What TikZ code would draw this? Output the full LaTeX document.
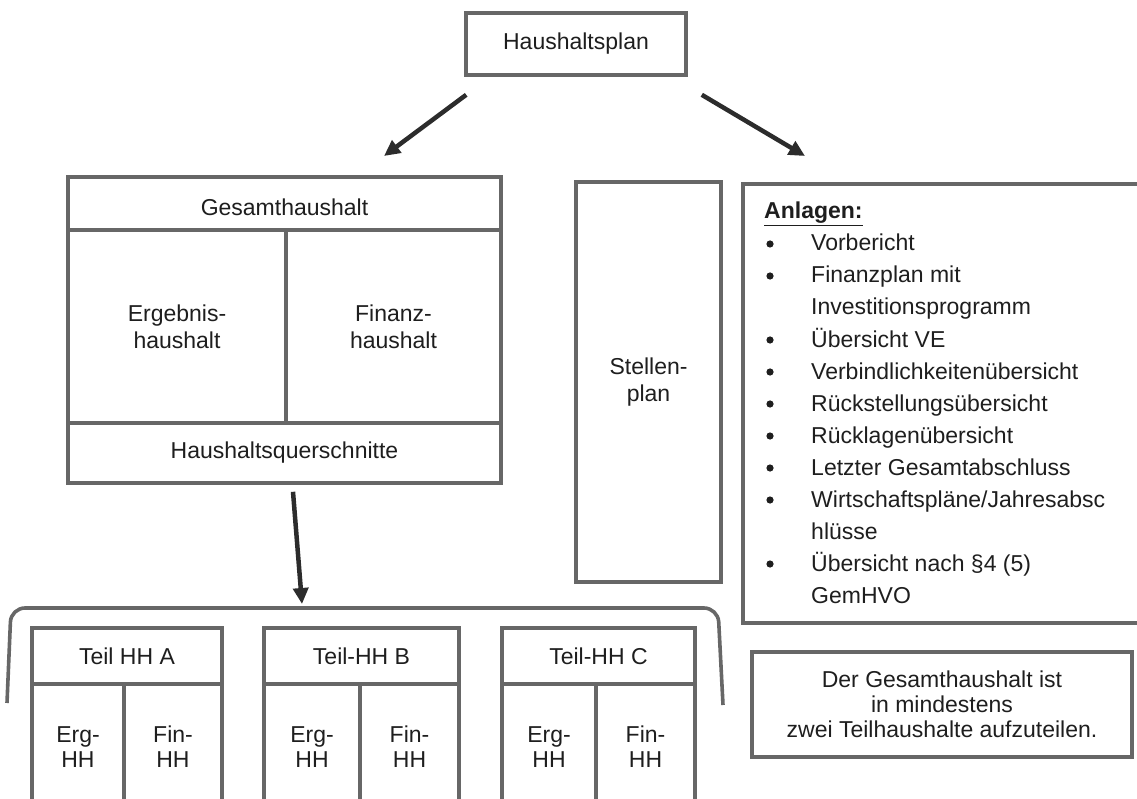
\documentclass[tikz,border=0pt]{standalone}
\usepackage{fontspec}
\setmainfont{Liberation Sans}
\usetikzlibrary{arrows.meta}
\definecolor{framegray}{HTML}{676767}
\definecolor{inkgray}{HTML}{1E1E1E}
\definecolor{arrowgray}{HTML}{2C2C2C}
\newcommand{\hhfont}{\fontsize{23}{27}\selectfont}

\begin{document}
\begin{tikzpicture}[x=1pt, y=-1pt,
  cell/.style={
    draw=framegray, line width=3.6pt, inner sep=0pt,
    align=center, text=inkgray, font=\hhfont
  },
  item/.style={anchor=base west, inner sep=0pt, text=inkgray, font=\hhfont},
  bigarrow/.style={draw=arrowgray, line width=4.5pt,
    -{Triangle[length=16pt,width=15pt]}}
]
\useasboundingbox (0,0) rectangle (1137,799);
\clip (0,0) rectangle (1137,799);

\node[cell, minimum width=220pt, minimum height=62pt] (plan) at (576,44) {Haushaltsplan};

% Gesamthaushalt
\node[cell, minimum width=433pt, minimum height=53pt, text height=25pt] (gesamt) at (284.5,203.5) {Gesamthaushalt};
\node[cell, minimum width=218pt, minimum height=193pt] (erg) at (177,326.5) {Ergebnis-\\haushalt};
\node[cell, minimum width=215pt, minimum height=193pt] (fin) at (393.5,326.5) {Finanz-\\haushalt};
\node[cell, minimum width=433pt, minimum height=60pt] (quer) at (284.5,453) {Haushaltsquerschnitte};

\node[cell, minimum width=145pt, minimum height=400pt] (stellen) at (648.5,382) {Stellen-\\plan};

% Anlagen
\node[cell, minimum width=417pt, minimum height=439pt] (anlagen) at (951.5,403.5) {};
\node[item, font=\hhfont\bfseries] (anltitel) at (764,219) {\underline{Anlagen:}};
\foreach \k/\t/\b in {1/Vorbericht/1, 2/Finanzplan mit/1, 3/Investitionsprogramm/0,
    4/Übersicht VE/1, 5/Verbindlichkeitenübersicht/1, 6/Rückstellungsübersicht/1,
    7/Rücklagenübersicht/1, 8/Letzter Gesamtabschluss/1,
    9/Wirtschaftspläne\slash Jahresabsc/1, 10/hlüsse/0,
    11/Übersicht nach §4 (5)/1, 12/GemHVO/0}{
  \node[item] (zeile\k) at (811,219+32*\k) {\t};
  \ifnum\b=1 \fill[inkgray] (770,212+32*\k) circle (3.6pt); \fi
}

\node[cell, minimum width=380pt, minimum height=105pt, font=\fontsize{23}{25}\selectfont]
  (hinweis) at (942,704.5) {Der Gesamthaushalt ist\\in mindestens\\zwei Teilhaushalte aufzuteilen.};

% Teilhaushalte
\draw[draw=framegray, line width=3.6pt, rounded corners=14pt]
  (7,703) -- (11,608) -- (718,608) -- (723,705);
\coordinate (teilung) at (302,604);

\foreach \n/\l/\m/\r/\lab in {A/32/124/222/Teil HH A, B/264/360/459/Teil-HH B, C/502/596/695/Teil-HH C}{
  \pgfmathsetmacro\w{\r-\l}
  \pgfmathsetmacro\wl{\m-\l}
  \pgfmathsetmacro\wr{\r-\m}
  \node[cell, minimum width=\w pt, minimum height=56pt] (teil\n) at ({(\l+\r)/2},656) {\lab};
  \node[cell, minimum width=\wl pt, minimum height=126pt, font=\fontsize{23}{25}\selectfont]
    (teilErg\n) at ({(\l+\m)/2},747) {Erg-\\HH};
  \node[cell, minimum width=\wr pt, minimum height=126pt, font=\fontsize{23}{25}\selectfont]
    (teilFin\n) at ({(\m+\r)/2},747) {Fin-\\HH};
}

% Pfeile
\coordinate (zielGes) at (384,156);
\coordinate (zielAnl) at (805,156);
\draw[bigarrow] ([xshift=2pt,yshift=-18pt]plan.south west) -- (zielGes);
\draw[bigarrow] ([xshift=14pt,yshift=-18pt]plan.south east) -- (zielAnl);
\draw[bigarrow] ([xshift=8.5pt,yshift=-7pt]quer.south) -- (teilung);
\end{tikzpicture}
\end{document}
